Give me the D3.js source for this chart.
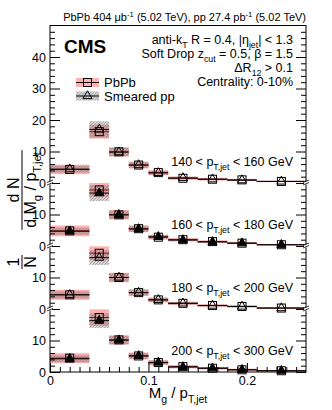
<!DOCTYPE html>
<html>
<head>
<meta charset="utf-8">
<script src="https://cdn.jsdelivr.net/npm/d3@7"></script>
<style>
body { margin: 0; background: #fff; }
svg { display: block; font-family: "Liberation Sans", Arial, Helvetica, sans-serif; }
</style>
</head>
<body>
<div id="chart"></div>
<script>
// Mg/pT,jet bin edges (shared by all panels)
const binEdges = [0, 0.04, 0.06, 0.08, 0.10, 0.12, 0.15, 0.18, 0.21, 0.26];

// jet pT ranges, top panel first
const ptRanges = [["140", "160"], ["160", "180"], ["180", "200"], ["200", "300"]];
// each panel is shifted up on the common y axis
const panelOffsets = [60, 40, 20, 0];

// 140 < pT < 160
const pbpb140 = [4.3, 16.3, 9.9, 5.7, 3.3, 1.5, 1.2, 1.0, 0.5];
const pp140 = [4.4, 17.0, 9.8, 5.7, 3.2, 1.6, 1.2, 0.9, 0.5];
const pbpbSys140 = [1.5, 2.2, 1.5, 1.1, 0.8, 0.5, 0.4, 0.3, 0.2];
const ppSys140 = [1.1, 2.6, 1.3, 0.9, 0.6, 0.4, 0.3, 0.3, 0.2];

// 160 < pT < 180
const pbpb160 = [4.8, 17.8, 9.9, 5.5, 2.8, 2.0, 1.4, 0.9, 0.4];
const pp160 = [4.7, 16.8, 9.9, 5.4, 2.9, 1.9, 1.3, 0.9, 0.4];
const pbpbSys160 = [1.7, 2.2, 1.5, 1.1, 0.8, 0.5, 0.4, 0.3, 0.2];
const ppSys160 = [1.1, 2.5, 1.3, 0.9, 0.6, 0.4, 0.3, 0.3, 0.2];

// 180 < pT < 200
const pbpb180 = [4.5, 17.7, 10.0, 5.2, 2.9, 1.8, 1.1, 0.8, 0.3];
const pp180 = [4.5, 16.3, 10.0, 5.2, 2.9, 1.8, 1.1, 0.8, 0.3];
const pbpbSys180 = [1.6, 2.2, 1.5, 1.1, 0.8, 0.5, 0.4, 0.3, 0.2];
const ppSys180 = [1.1, 2.3, 1.3, 0.9, 0.6, 0.4, 0.3, 0.3, 0.2];

// 200 < pT < 300
const pbpb200 = [4.4, 17.3, 10.2, 5.1, 3.0, 1.7, 1.2, 0.7, 0.4];
const pp200 = [4.2, 16.3, 10.1, 5.1, 3.0, 1.6, 1.2, 0.7, 0.4];
const pbpbSys200 = [1.6, 2.6, 1.5, 1.1, 0.8, 0.5, 0.4, 0.3, 0.2];
const ppSys200 = [1.1, 2.3, 1.3, 0.9, 0.6, 0.4, 0.3, 0.3, 0.2];

const pbpbPanels = [pbpb140, pbpb160, pbpb180, pbpb200];
const ppPanels = [pp140, pp160, pp180, pp200];
const pbpbSysPanels = [pbpbSys140, pbpbSys160, pbpbSys180, pbpbSys200];
const ppSysPanels = [ppSys140, ppSys160, ppSys180, ppSys200];
// open triangles in panels 1 and 3, filled in 2 and 4
const ppFilled = [false, true, false, true];

const W = 332, H = 410;
const frame = {left: 50, right: 306, top: 25.5, bottom: 372};
const redFill = "rgba(255,50,50,0.38)";
const grayFill = "rgba(120,120,120,0.32)";

const svg = d3.select("#chart").append("svg")
  .attr("width", W)
  .attr("height", H);

const x = d3.scaleLinear().domain([0, 0.26]).range([frame.left, frame.right]);
const y = d3.scaleLinear().domain([0, 110]).range([frame.bottom, frame.top]);

// hatch for smeared pp systematics
const defs = svg.append("defs");
defs.append("pattern")
  .attr("id", "hatch")
  .attr("patternUnits", "userSpaceOnUse")
  .attr("width", 3)
  .attr("height", 3)
  .append("path")
  .attr("d", "M-1,1 l2,-2 M0,3 l3,-3 M2,4 l2,-2")
  .attr("stroke", "#777")
  .attr("stroke-width", 0.5);

// rich text helper: parts = [[text, "sub"|"sup"|undefined]]
function rich(sel, parts, fs) {
  let shift = 0;
  parts.forEach(([t, kind]) => {
    const target = kind === "sub" ? fs * 0.3 : kind === "sup" ? -fs * 0.4 : 0;
    sel.append("tspan")
      .attr("dy", target - shift)
      .attr("font-size", kind ? fs * 0.7 : fs)
      .text(t);
    shift = target;
  });
  return sel;
}

const bins = d3.range(binEdges.length - 1);
const tri = d3.symbol(d3.symbolTriangle, 36);
const sq = 8;
const mid = i => x((binEdges[i] + binEdges[i + 1]) / 2);

// draw the panels
pbpbPanels.forEach((pbpb, p) => {
  const off = panelOffsets[p];
  const pp = ppPanels[p];
  const g = svg.append("g");

  // PbPb systematics
  g.selectAll(".sysPbPb")
    .data(bins)
    .join("rect")
    .attr("x", i => x(binEdges[i]))
    .attr("width", i => x(binEdges[i + 1]) - x(binEdges[i]))
    .attr("y", i => y(off + pbpb[i] + pbpbSysPanels[p][i]))
    .attr("height", i => y(off + pbpb[i] - pbpbSysPanels[p][i]) - y(off + pbpb[i] + pbpbSysPanels[p][i]))
    .attr("fill", redFill);

  // pp systematics, gray + hatch
  [grayFill, "url(#hatch)"].forEach(fill => {
    g.selectAll(null)
      .data(bins)
      .join("rect")
      .attr("x", i => x(binEdges[i]))
      .attr("width", i => x(binEdges[i + 1]) - x(binEdges[i]))
      .attr("y", i => y(off + pp[i] + ppSysPanels[p][i]))
      .attr("height", i => y(off + pp[i] - ppSysPanels[p][i]) - y(off + pp[i] + ppSysPanels[p][i]))
      .attr("fill", fill);
  });

  // bin-width bars
  g.selectAll(".barPbPb")
    .data(bins)
    .join("line")
    .attr("x1", i => x(binEdges[i]))
    .attr("x2", i => x(binEdges[i + 1]))
    .attr("y1", i => y(off + pbpb[i]))
    .attr("y2", i => y(off + pbpb[i]))
    .attr("stroke", "#8a1010")
    .attr("stroke-width", 1);
  g.selectAll(".barpp")
    .data(bins)
    .join("line")
    .attr("x1", i => x(binEdges[i]))
    .attr("x2", i => x(binEdges[i + 1]))
    .attr("y1", i => y(off + pp[i]))
    .attr("y2", i => y(off + pp[i]))
    .attr("stroke", "#000")
    .attr("stroke-width", 1);

  // PbPb open squares
  g.selectAll(".mPbPb")
    .data(bins)
    .join("rect")
    .attr("x", i => mid(i) - sq / 2)
    .attr("y", i => y(off + pbpb[i]) - sq / 2)
    .attr("width", sq)
    .attr("height", sq)
    .attr("fill", "none")
    .attr("stroke", "#000")
    .attr("stroke-width", 1);

  // smeared pp triangles
  g.selectAll(".mpp")
    .data(bins)
    .join("path")
    .attr("d", tri)
    .attr("transform", i => `translate(${mid(i)},${y(off + pp[i])})`)
    .attr("fill", ppFilled[p] ? "#000" : "none")
    .attr("stroke", "#000")
    .attr("stroke-width", 1);

  // pT range label
  rich(svg.append("text")
    .attr("x", 293)
    .attr("y", y(off) - 17)
    .attr("text-anchor", "end"),
    [[ptRanges[p][0] + " < p"], ["T,jet", "sub"], [" < " + ptRanges[p][1] + " GeV"]], 12.5);
});

// frame
svg.append("rect")
  .attr("x", frame.left)
  .attr("y", frame.top)
  .attr("width", frame.right - frame.left)
  .attr("height", frame.bottom - frame.top)
  .attr("fill", "none")
  .attr("stroke", "#000")
  .attr("stroke-width", 1);

// y axes
const majorY = d3.range(0, 101, 10);
const minorY = d3.range(0, 111, 2).filter(v => v % 10 !== 0);
const yLabel = v => v >= 60 ? v - 60 : v % 20;

svg.append("g")
  .attr("transform", `translate(${frame.left},0)`)
  .call(d3.axisLeft(y).tickValues(majorY).tickSizeInner(-10).tickSizeOuter(0).tickPadding(4).tickFormat(yLabel))
  .call(a => a.select(".domain").remove())
  .call(a => a.selectAll("text").attr("font-size", 12.5).attr("font-family", null));
svg.append("g")
  .attr("transform", `translate(${frame.left},0)`)
  .call(d3.axisLeft(y).tickValues(minorY).tickSizeInner(-5).tickSizeOuter(0).tickFormat(""))
  .call(a => a.select(".domain").remove());
svg.append("g")
  .attr("transform", `translate(${frame.right},0)`)
  .call(d3.axisRight(y).tickValues(majorY.concat(minorY)).tickSizeInner(-5).tickSizeOuter(0).tickFormat(""))
  .call(a => a.select(".domain").remove())
  .call(a => a.selectAll("line").filter(v => v % 10 === 0).attr("x2", -10));

// x axis
svg.append("g")
  .attr("transform", `translate(0,${frame.bottom})`)
  .call(d3.axisBottom(x).tickValues([0, 0.1, 0.2]).tickSizeInner(-9).tickSizeOuter(0).tickPadding(4).tickFormat(d => d === 0 ? "0" : d3.format(".1f")(d)))
  .call(a => a.select(".domain").remove())
  .call(a => a.selectAll("text").attr("font-size", 12.5).attr("font-family", null));
svg.append("g")
  .attr("transform", `translate(0,${frame.bottom})`)
  .call(d3.axisBottom(x).tickValues(d3.range(1, 26).map(i => i / 100).filter(v => Math.round(v * 100) % 10 !== 0)).tickSizeInner(-5).tickSizeOuter(0).tickFormat(""))
  .call(a => a.select(".domain").remove());

// axis breaks between panels
[20, 40, 60].forEach(v => {
  [frame.left, frame.right].forEach(ax => {
    const yy = y(v);
    svg.append("rect").attr("x", ax - 2).attr("y", yy - 1.5).attr("width", 4).attr("height", 3).attr("fill", "#fff");
    svg.append("path")
      .attr("d", `M${ax - 3},${yy - 0.5} l6,-2.5 M${ax - 3},${yy + 2} l6,-2.5`)
      .attr("stroke", "#000").attr("stroke-width", 0.8).attr("fill", "none");
  });
});

// axis titles
rich(svg.append("text").attr("x", 178).attr("y", 398).attr("text-anchor", "middle"),
  [["M"], ["g", "sub"], [" / p"], ["T,jet", "sub"]], 15);

const yt1 = svg.append("g").attr("transform", "translate(22,262) rotate(-90)");
yt1.append("text").attr("text-anchor", "middle").attr("y", -3).attr("font-size", 16).text("1");
yt1.append("line").attr("x1", -7).attr("x2", 7).attr("stroke", "#000");
yt1.append("text").attr("text-anchor", "middle").attr("y", 14).attr("font-size", 16).text("N");

const yt2 = svg.append("g").attr("transform", "translate(22,190) rotate(-90)");
yt2.append("text").attr("text-anchor", "middle").attr("y", -3).attr("font-size", 16).text("d N");
const den = rich(yt2.append("text").attr("text-anchor", "middle").attr("y", 14),
  [["d M"], ["g", "sub"], [" / p"], ["T,jet", "sub"]], 16);
const denW = den.node().getComputedTextLength();
yt2.append("line").attr("x1", -denW / 2 - 2).attr("x2", denW / 2 + 2).attr("stroke", "#000");

// header
rich(svg.append("text").attr("x", 306).attr("y", 21).attr("text-anchor", "end"),
  [["PbPb 404 μb"], ["-1", "sup"], [" (5.02 TeV), pp 27.4 pb"], ["-1", "sup"], [" (5.02 TeV)"]], 11);

svg.append("text")
  .attr("x", 64)
  .attr("y", 53)
  .attr("font-size", 19)
  .attr("font-weight", "bold")
  .text("CMS");

// selection text
const selLines = [
  [["anti-k"], ["T", "sub"], [" R = 0.4, |η"], ["jet", "sub"], ["| < 1.3"]],
  [["Soft Drop z"], ["cut", "sub"], [" = 0.5, β = 1.5"]],
  [["ΔR"], ["12", "sub"], [" > 0.1"]],
  [["Centrality: 0-10%"]]
];
selLines.forEach((parts, i) => {
  rich(svg.append("text").attr("x", 293).attr("y", 44 + i * 14).attr("text-anchor", "end"), parts, 12.5);
});

// legend
const legend = svg.append("g");
legend.append("rect").attr("x", 76).attr("y", 78).attr("width", 23).attr("height", 9).attr("fill", redFill);
legend.append("line").attr("x1", 76).attr("x2", 99).attr("y1", 82.5).attr("y2", 82.5).attr("stroke", "#000");
legend.append("rect").attr("x", 87.5 - sq / 2).attr("y", 82.5 - sq / 2).attr("width", sq).attr("height", sq).attr("fill", "none").attr("stroke", "#000");
legend.append("text").attr("x", 104).attr("y", 87).attr("font-size", 13).text("PbPb");

legend.append("rect").attr("x", 76).attr("y", 91.5).attr("width", 23).attr("height", 9).attr("fill", grayFill);
legend.append("rect").attr("x", 76).attr("y", 91.5).attr("width", 23).attr("height", 9).attr("fill", "url(#hatch)");
legend.append("line").attr("x1", 76).attr("x2", 99).attr("y1", 96).attr("y2", 96).attr("stroke", "#000");
legend.append("path").attr("d", tri).attr("transform", "translate(87.5,96)").attr("fill", "none").attr("stroke", "#000");
legend.append("text").attr("x", 104).attr("y", 100.5).attr("font-size", 13).text("Smeared pp");
</script>
</body>
</html>
